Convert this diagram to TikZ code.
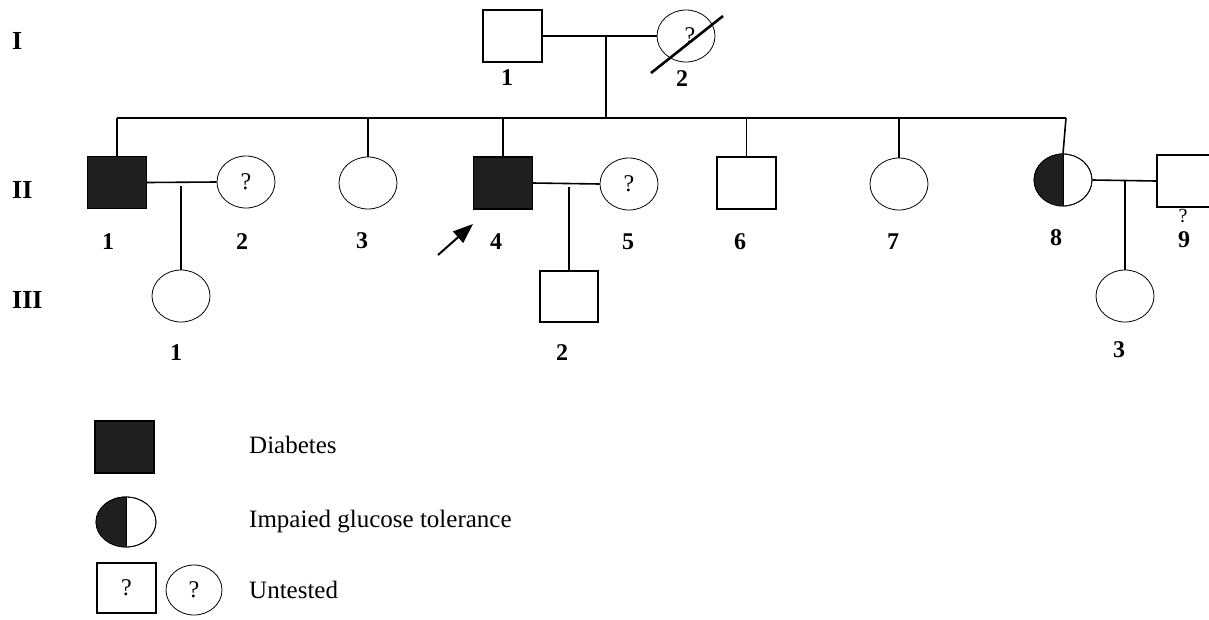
\documentclass[tikz,border=0pt]{standalone}
\usepackage{fontspec}
\setmainfont{Liberation Serif}
\usetikzlibrary{shapes.geometric,arrows.meta}
\begin{document}
\begin{tikzpicture}[x=1pt,y=-1pt,
  sq/.style={draw,rectangle,minimum width=59,minimum height=52,inner sep=0,line width=1.3pt},
  fsq/.style={sq,fill=black!88},
  ci/.style={draw,ellipse,minimum width=58,minimum height=52,inner sep=0,line width=0.8pt,font=\fontsize{24}{24}\selectfont},
  lbl/.style={font=\fontsize{24}{24}\selectfont\bfseries,inner sep=0},
  gen/.style={font=\fontsize{26}{26}\selectfont\bfseries,inner sep=0,anchor=west},
  leg/.style={font=\fontsize{25}{25}\selectfont,inner sep=0,anchor=west},
  ln/.style={line width=1.6pt}]
\clip (0,0) rectangle (1209,619);
\fill[white] (0,0) rectangle (1209,619);

% generation labels
\node[gen] (gI) at (12,41) {I};
\node[gen] (gII) at (12,190) {II};
\node[gen] (gIII) at (12,300) {III};

% generation I
\node[sq] (I1) at (512.5,36) {};
\node[ci] (I2) at (686,36) {};
\node[font=\fontsize{24}{24}\selectfont,inner sep=0] (q12) at (690,36) {?};
\draw[line width=2.6pt] (651,73) -- (723,16);
\node[lbl] (l11) at (507,78) {1};
\node[lbl] (l12) at (682,79) {2};
\coordinate (m1) at (606,37);
\coordinate (s0) at (606,118);
\draw[ln] (I1.east) -- (I2.west);
\draw[ln] (m1) -- (s0);

% sibship line
\coordinate (sL) at (117,118);
\coordinate (sR) at (1066,118);
\draw[ln] (sL) -- (sR);

% generation II
\node[fsq] (II1) at (117,182.5) {};
\node[ci] (II2) at (246,182) {?};
\node[ci] (II3) at (368,183) {};
\node[fsq] (II4) at (503,183) {};
\node[ci] (II5) at (629,184) {?};
\node[sq] (II6) at (746.5,183) {};
\node[ci] (II7) at (899,184) {};
\node[ci] (II8) at (1063,180) {};
\fill[black!88] (II8.north) arc[start angle=270,end angle=90,x radius=29,y radius=26] -- cycle;
\draw[line width=0.8pt] (II8.center) ellipse[x radius=29,y radius=26];
\draw[line width=0.8pt] (II8.north) -- (II8.south);
\node[sq] (II9) at (1186.5,181) {};

\draw[ln] (II1.north) -- (II1.north |- sL);
\draw[ln] (II3.north) -- (II3.north |- sL);
\draw[ln] (II4.north) -- (II4.north |- sL);
\draw[ln] (II6.north) -- (II6.north |- sL);
\draw[ln] (II7.north) -- (II7.north |- sL);
\draw[ln] (II8.north) -- (sR);

\node[lbl] (l21) at (108,242) {1};
\node[lbl] (l22) at (242,242) {2};
\node[lbl] (l23) at (362,241) {3};
\node[lbl] (l24) at (496,242) {4};
\node[lbl] (l25) at (628,242) {5};
\node[lbl] (l26) at (740,242) {6};
\node[lbl] (l27) at (893,242) {7};
\node[lbl] (l28) at (1056,238) {8};
\node[font=\fontsize{20}{20}\selectfont,inner sep=0] (q29) at (1183,216) {?};
\node[lbl] (l29) at (1184,240) {9};

% proband arrow
\coordinate (pa) at (438,255);
\coordinate (pt) at (473,224);
\draw[line width=2pt,-{Triangle[length=20pt,width=15pt]}] (pa) -- (pt);

% marriages
\draw[ln] (II1.east) -- (II2.west);
\draw[ln] (II4.east) -- (II5.west);
\draw[ln] (II8.east) -- (II9.west);

% generation III
\node[ci] (III1) at (181,296) {};
\node[sq,minimum width=58,minimum height=51] (III2) at (569,296.5) {};
\node[ci] (III3) at (1125,296) {};
\coordinate (c1) at (181,186);
\coordinate (c2) at (569,187);
\coordinate (c3) at (1125,181);
\draw[ln] (c1) -- (III1.north);
\draw[ln] (c2) -- (III2.north);
\draw[ln] (c3) -- (III3.north);
\node[lbl] (l31) at (176,353) {1};
\node[lbl] (l32) at (562,353) {2};
\node[lbl] (l33) at (1119,350) {3};

% legend
\node[fsq] (k1) at (124.5,447) {};
\node[leg] (t1) at (249,445) {Diabetes};
\node[ci,minimum width=60,minimum height=50] (k2) at (126,522) {};
\fill[black!88] (k2.north) arc[start angle=270,end angle=90,x radius=30,y radius=25] -- cycle;
\draw[line width=0.8pt] (k2.center) ellipse[x radius=30,y radius=25];
\draw[line width=0.8pt] (k2.north) -- (k2.south);
\node[leg] (t2) at (249,522) {Impaied glucose tolerance};
\node[sq,minimum width=59,minimum height=50,font=\fontsize{24}{24}\selectfont] (k3) at (126.5,588) {?};
\node[ci,minimum width=56,minimum height=50] (k4) at (194,590) {?};
\node[leg] (t3) at (249,590) {Untested};
\end{tikzpicture}
\end{document}
